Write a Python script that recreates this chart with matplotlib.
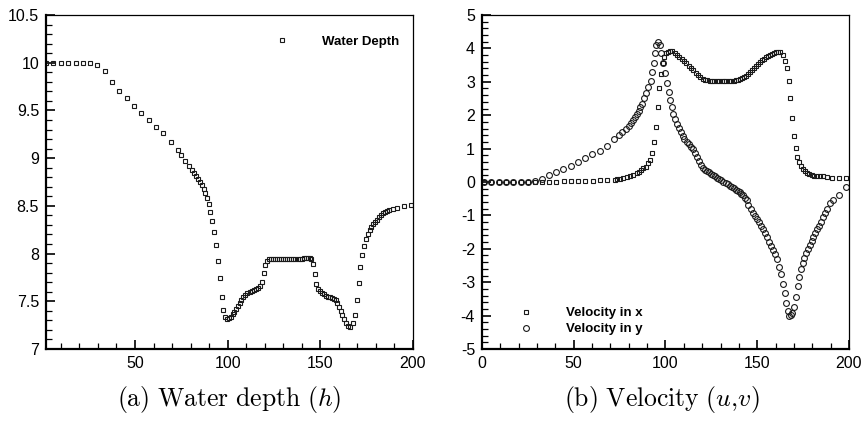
import numpy as np
import matplotlib
matplotlib.use('Agg')
import matplotlib.pyplot as plt
from matplotlib.ticker import MultipleLocator

plt.rcParams['font.family'] = ['Liberation Sans', 'DejaVu Sans']
plt.rcParams['mathtext.fontset'] = 'cm'
plt.rcParams['axes.unicode_minus'] = False

# (a) water depth h along x
h_x = [2, 6, 10, 14, 18, 22, 26, 29.6, 33.6, 37.6, 41.5, 45.5, 49.5, 53.4, 57.4, 61.4,
       65.3, 69.3, 73.1, 75.0, 77.0, 79.0, 81.0, 82.0, 83.0, 84.0, 85.0, 86.0, 87.0,
       88.0, 88.9, 89.7, 90.5, 91.6, 92.7, 93.6, 94.7, 95.8, 96.7, 97.7, 98.6, 99.5,
       100.8, 101.7, 102.8, 103.6, 104.6, 105.5, 106.4, 107.3, 108.5, 109.5, 110.7,
       111.8, 113.1, 114.3, 115.4, 116.5, 117.6, 118.3, 119.4, 120.3, 121.2, 122.3,
       123.4, 124.5, 125.6, 126.7, 127.8, 128.9, 130.0, 131.1, 132.2, 133.3, 134.4,
       135.5, 136.6, 137.7, 138.8, 139.9, 141.0, 142.1, 143.1, 144.2, 145.1, 145.8,
       146.9, 147.8, 148.9, 149.8, 150.7, 151.8, 152.9, 154.0, 155.1, 156.1, 157.2,
       158.3, 159.2, 160.1, 161.0, 161.9, 163.0, 164.1, 165.1, 166.2, 167.5, 168.5,
       169.6, 170.7, 171.6, 172.7, 173.6, 174.7, 175.6, 176.6, 177.6, 178.6, 179.7,
       180.6, 181.7, 182.8, 183.9, 184.9, 186.0, 187.3, 189.3, 191.5, 195.2, 199.1]
h_y = [10.0, 10.0, 10.0, 10.0, 10.0, 10.0, 10.0, 9.98, 9.91, 9.80, 9.70, 9.63, 9.55, 9.47,
       9.40, 9.33, 9.26, 9.17, 9.09, 9.03, 8.97, 8.92, 8.88, 8.84, 8.81, 8.78, 8.75, 8.72,
       8.68, 8.63, 8.58, 8.52, 8.44, 8.34, 8.23, 8.09, 7.92, 7.74, 7.55, 7.41, 7.34, 7.31,
       7.32, 7.34, 7.37, 7.39, 7.42, 7.45, 7.48, 7.51, 7.54, 7.57, 7.59, 7.60, 7.61, 7.62,
       7.63, 7.64, 7.66, 7.70, 7.80, 7.88, 7.92, 7.94,
       7.94, 7.94, 7.94, 7.94, 7.94, 7.94, 7.94, 7.94, 7.94, 7.94, 7.94,
       7.94, 7.94, 7.94, 7.94, 7.945, 7.95, 7.955, 7.955, 7.95, 7.94, 7.89,
       7.79, 7.68, 7.63, 7.61, 7.59, 7.58, 7.56, 7.55, 7.54, 7.53, 7.52,
       7.51, 7.48, 7.44, 7.40, 7.36, 7.31, 7.27, 7.24, 7.23, 7.27, 7.36,
       7.51, 7.69, 7.86, 7.99, 8.08, 8.15, 8.20, 8.25, 8.28, 8.31, 8.33,
       8.35, 8.38, 8.40, 8.42, 8.44, 8.45, 8.46, 8.47, 8.48, 8.50, 8.51]

# (b) velocity in x (u)
u_x = [1, 5, 9, 13, 17, 21, 25, 29, 32.5, 36.7, 40.5, 44.5, 48.3, 52.3, 56.3, 60.3, 64.3,
       68.3, 72.3, 73.4, 75.2, 77.0, 78.8, 80.7, 82.5, 84.3, 85.5, 86.7, 87.9, 89.4, 90.6,
       91.6, 92.6, 93.7, 94.8, 95.7, 96.6, 97.5, 98.5, 99.4, 100.3, 101.2, 102.5, 103.7,
       105.0, 106.3, 107.5, 108.8, 110.1, 111.3, 112.6, 113.9, 115.2, 116.4, 117.7, 119.0,
       120.3, 121.5, 122.8, 124.1, 125.4, 126.7, 128.0, 129.3, 130.6, 131.9, 133.2, 134.5,
       135.8, 137.1, 138.4, 139.6, 140.6, 141.7, 142.8, 143.9, 145.0, 146.1, 147.2, 148.3,
       149.4, 150.5, 151.6, 152.7, 153.8, 154.9, 156.0, 157.1, 158.2, 159.3, 160.4, 161.5,
       162.6, 163.9, 165.1, 166.0, 167.1, 168.0, 168.9, 170.0, 171.0, 171.8, 172.8, 173.7,
       174.8, 175.9, 176.9, 178.2, 179.7, 180.9, 182.4, 184.2, 186.0, 188.2, 190.9, 194.7,
       198.4]
u_y = [0.0, 0.0, 0.0, 0.0, 0.0, 0.0, 0.0, 0.0, 0.0, 0.0, 0.01, 0.02, 0.02, 0.03, 0.03, 0.04,
       0.05, 0.06, 0.07, 0.08, 0.09, 0.12, 0.14, 0.18, 0.21, 0.26, 0.30, 0.35, 0.41, 0.46,
       0.56, 0.66, 0.88, 1.21, 1.66, 2.24, 2.81, 3.23, 3.55, 3.73, 3.85, 3.90, 3.92, 3.91,
       3.85, 3.79, 3.73, 3.67, 3.61, 3.55, 3.48, 3.42, 3.35, 3.27, 3.19, 3.13, 3.09, 3.06,
       3.04, 3.03, 3.03, 3.02, 3.02, 3.02, 3.02, 3.02, 3.02, 3.02, 3.03, 3.03, 3.04, 3.06,
       3.08, 3.11, 3.14, 3.18, 3.24, 3.30, 3.36, 3.42, 3.48, 3.54, 3.60, 3.65, 3.69, 3.73,
       3.77, 3.81, 3.84, 3.87, 3.89, 3.90, 3.89, 3.80, 3.63, 3.40, 3.02, 2.51, 1.91, 1.39,
       1.01, 0.76, 0.61, 0.49, 0.39, 0.33, 0.28, 0.24, 0.21, 0.19, 0.18, 0.17, 0.17, 0.16,
       0.13, 0.13, 0.12]

# (b) velocity in y (v)
v_x = [1, 5, 9, 13, 17, 21, 25, 29, 32.5, 36.5, 40.3, 44.3, 48.3, 52.3, 56.3, 60.1, 64.1,
       68.1, 72.1, 74.7, 76.5, 78.5, 79.9, 81.2, 82.5, 83.5, 84.5, 85.4, 86.3, 87.2, 88.3,
       89.4, 90.6, 91.9, 92.8, 93.7, 94.3, 94.8, 95.9, 97.0, 97.7, 98.7, 99.6, 100.7,
       101.7, 102.6, 103.5, 104.3, 105.2, 106.3, 107.4, 108.3, 109.4, 110.3, 111.6, 112.8,
       114.1, 115.2, 116.3, 117.4, 118.5, 119.6, 120.6, 121.7, 122.8, 123.9, 125.0, 126.1,
       127.2, 128.3, 129.4, 130.5, 131.6, 132.7, 133.8, 134.9, 136.0, 137.1, 138.2, 139.3,
       140.4, 141.4, 142.4, 143.5, 144.3, 145.1, 146.4, 147.5, 148.8, 150.0, 151.1, 152.2,
       153.3, 154.4, 155.5, 156.6, 157.7, 158.8, 159.9, 161.0, 162.0, 162.9, 164.0, 165.0,
       165.8, 166.6, 167.5, 168.2, 169.1, 170.0, 171.0, 172.0, 172.9, 173.8, 174.8, 175.7,
       176.6, 177.7, 178.7, 179.7, 180.5, 181.5, 182.4, 183.5, 184.6, 185.7, 186.9, 188.2,
       189.6, 191.1, 194.7, 198.4]
v_y = [0.0, 0.0, 0.0, 0.0, 0.0, 0.0, 0.0, 0.02, 0.09, 0.20, 0.30, 0.40, 0.49, 0.60, 0.71,
       0.83, 0.93, 1.09, 1.30, 1.40, 1.50, 1.59, 1.68, 1.77, 1.86, 1.94, 2.03, 2.13, 2.24,
       2.34, 2.51, 2.67, 2.85, 3.02, 3.28, 3.55, 3.85, 4.10, 4.20, 4.10, 3.85, 3.55, 3.25,
       2.95, 2.69, 2.45, 2.24, 2.04, 1.89, 1.74, 1.61, 1.49, 1.38, 1.30, 1.21, 1.14, 1.06,
       0.98, 0.88, 0.76, 0.64, 0.51, 0.41, 0.37, 0.33, 0.29, 0.25, 0.21, 0.17, 0.13, 0.09,
       0.05, 0.01, -0.03, -0.07, -0.11, -0.15, -0.19, -0.23, -0.27, -0.31, -0.35, -0.40,
       -0.47, -0.55, -0.68, -0.82, -0.92, -1.02, -1.12, -1.21, -1.32, -1.42, -1.54, -1.66,
       -1.79, -1.92, -2.04, -2.17, -2.31, -2.54, -2.76, -3.04, -3.33, -3.61, -3.85, -4.01,
       -3.98, -3.93, -3.75, -3.43, -3.11, -2.84, -2.61, -2.43, -2.28, -2.13, -2.01, -1.89,
       -1.76, -1.64, -1.54, -1.42, -1.32, -1.19, -1.06, -0.94, -0.80, -0.64, -0.54, -0.39,
       -0.14]

mk = dict(linestyle='none', markerfacecolor='none', markeredgecolor='#1a1a1a',
          markeredgewidth=0.8)

fig = plt.figure(figsize=(8.61, 4.21), dpi=100)
ax1 = fig.add_axes([46 / 861, 1 - 349 / 421, 367 / 861, 334 / 421])
ax2 = fig.add_axes([482 / 861, 1 - 349 / 421, 367 / 861, 334 / 421])

ax1.plot(h_x, h_y, marker='s', markersize=3.3, label='Water Depth', **mk)
ax1.set_xlim(2, 200)
ax1.set_ylim(7, 10.5)
ax1.xaxis.set_major_locator(MultipleLocator(50))
ax1.xaxis.set_minor_locator(MultipleLocator(10))
ax1.yaxis.set_minor_locator(MultipleLocator(0.1))
ax1.set_yticks([7, 7.5, 8, 8.5, 9, 9.5, 10, 10.5])
ax1.set_yticklabels(['7', '7.5', '8', '8.5', '9', '9.5', '10', '10.5'])

ax2.plot(u_x, u_y, marker='s', markersize=3.3, label='Velocity in x', **mk)
ax2.plot(v_x, v_y, marker='o', markersize=4.2, label='Velocity in y', **mk)
ax2.set_xlim(0, 200)
ax2.set_ylim(-5, 5)
ax2.xaxis.set_major_locator(MultipleLocator(50))
ax2.xaxis.set_minor_locator(MultipleLocator(10))
ax2.yaxis.set_major_locator(MultipleLocator(1))
ax2.yaxis.set_minor_locator(MultipleLocator(0.2))

for ax in (ax1, ax2):
    ax.tick_params(which='both', direction='in', labelsize=11.5, pad=5,
                   top=False, right=False)
    ax.tick_params(which='major', length=6.5, width=1.2)
    ax.tick_params(which='minor', length=4, width=0.9)
    ax.spines['left'].set_linewidth(1.6)
    ax.spines['bottom'].set_linewidth(1.6)
    ax.spines['top'].set_linewidth(0.9)
    ax.spines['right'].set_linewidth(0.9)

ax1.legend(loc='center left', bbox_to_anchor=(0.625, 0.92), frameon=False,
           borderpad=0, borderaxespad=0, handlelength=1, handletextpad=2.5,
           prop={'weight': 'bold', 'size': 9.5})
ax2.legend(loc='center left', bbox_to_anchor=(0.102, 0.083), frameon=False,
           borderpad=0, borderaxespad=0, handlelength=1, handletextpad=2.5,
           labelspacing=0.3, prop={'weight': 'bold', 'size': 9.5})

fig.text(229.5 / 861, 0.05, r'$\mathrm{(a)\ Water\ depth\ (}h\mathrm{)}$',
         ha='center', va='center', fontsize=18.5)
fig.text(662 / 861, 0.05, r'$\mathrm{(b)\ Velocity\ (}u\mathrm{,}v\mathrm{)}$',
         ha='center', va='center', fontsize=18.5)

fig.savefig('out.png', dpi=100)
